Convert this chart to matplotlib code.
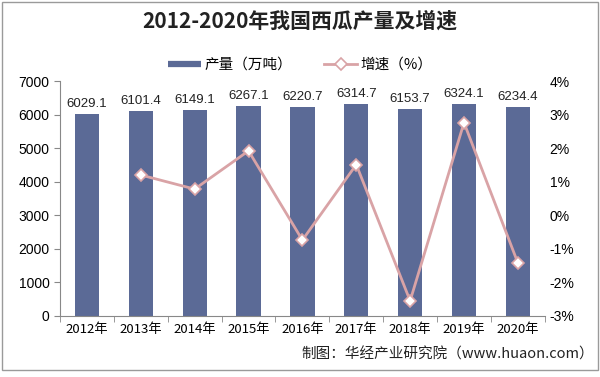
import matplotlib
matplotlib.use("Agg")
import matplotlib.pyplot as plt
from matplotlib.patches import Rectangle
from matplotlib.lines import Line2D
import numpy as np

plt.rcParams['font.family'] = ['Noto Sans CJK SC', 'DejaVu Sans']

years = ['2012年', '2013年', '2014年', '2015年', '2016年', '2017年', '2018年', '2019年', '2020年']
production = [6029.1, 6101.4, 6149.1, 6267.1, 6220.7, 6314.7, 6153.7, 6324.1, 6234.4]
growth_years = ['2013年', '2014年', '2015年', '2016年', '2017年', '2018年', '2019年', '2020年']
growth = [1.20, 0.78, 1.92, -0.74, 1.51, -2.55, 2.76, -1.42]

bar_color = '#5B6A96'
line_color = '#D9A3A6'

fig = plt.figure(figsize=(6.0, 3.77), dpi=100)
fig.patches.append(Rectangle((0.004, 0.018), 0.992, 0.976, transform=fig.transFigure,
                             fill=False, edgecolor='#9a9a9a', linewidth=1.0))
ax = fig.add_axes([0.1, 0.162, 0.808, 0.623])
x = np.arange(len(years))
bars = ax.bar(x, production, width=0.45, color=bar_color, label='产量（万吨）', zorder=2)
for xi, v in zip(x, production):
    ax.text(xi, v + 120, f'{v:.1f}', ha='center', va='bottom', fontsize=9.5,
            family=['Liberation Sans', 'DejaVu Sans'], color='#222222')
ax.set_ylim(0, 7000)
ax.set_xlim(-0.5, len(years) - 0.5)
ax.set_yticks(range(0, 7001, 1000))
ax.set_xticks(x)
ax.set_xticklabels(years, fontsize=9.5)
ax.set_xticks(np.arange(-0.5, len(years), 1), minor=True)
ax.tick_params(axis='x', which='major', length=0, pad=5)
ax.tick_params(axis='x', which='minor', length=4, color='#888888')
ax.tick_params(axis='y', length=4, color='#888888', labelsize=10)
for lab in ax.get_yticklabels():
    lab.set_family(['Liberation Sans', 'DejaVu Sans'])
for s in ['top', 'right']:
    ax.spines[s].set_visible(False)
ax.spines['left'].set_color('#888888')
ax.spines['bottom'].set_color('#888888')

ax2 = ax.twinx()
gx = [years.index(y) for y in growth_years]
line, = ax2.plot(gx, growth, color=line_color, linewidth=2, marker='D', markersize=6,
                 markerfacecolor='white', markeredgecolor=line_color, markeredgewidth=1.2,
                 label='增速（%）', zorder=3)
ax2.set_ylim(-3, 4)
ax2.set_yticks(range(-3, 5))
ax2.set_yticklabels([f'{v}%' for v in range(-3, 5)], family=['Liberation Sans', 'DejaVu Sans'])
ax2.tick_params(axis='y', length=0, labelsize=10)
for s in ['top', 'left', 'bottom', 'right']:
    ax2.spines[s].set_visible(False)

fig.text(0.5, 0.945, '2012-2020年我国西瓜产量及增速', ha='center', va='center',
         fontsize=15, fontweight='bold', color='#222222')
bar_handle = Line2D([0], [0], color=bar_color, linewidth=4.5, solid_capstyle='butt')
line_handle = Line2D([0], [0], color=line_color, linewidth=2, marker='D', markersize=6,
                     markerfacecolor='white', markeredgecolor=line_color, markeredgewidth=1.2)
fig.legend(handles=[bar_handle, line_handle], labels=['产量（万吨）', '增速（%）'],
           loc='center', bbox_to_anchor=(0.5, 0.828), ncol=2,
           frameon=False, fontsize=10.5, handlelength=2.3, handletextpad=0.2,
           columnspacing=2.2)
fig.text(0.99, 0.06, '制图：华经产业研究院（www.huaon.com）', ha='right', va='center',
         fontsize=10.5, color='#222222')
fig.savefig('out.png', dpi=100)
